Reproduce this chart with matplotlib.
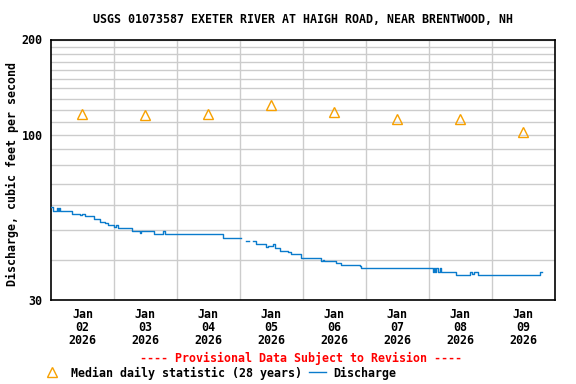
import matplotlib
matplotlib.use("Agg")
import matplotlib.pyplot as plt
import matplotlib.dates as mdates
from matplotlib.lines import Line2D
from matplotlib.ticker import FixedLocator, NullFormatter, FixedFormatter
from datetime import datetime, timedelta
import numpy as np

nan = float("nan")

# ---------------- data ----------------
start = datetime(2026, 1, 2)
# discharge, step series: hours after 2026-01-02 00:00 and value (cfs)
q_hours = [0.0, 0.88, 2.17, 2.8, 3.0, 3.43, 7.89, 11.05, 11.8, 12.95, 16.5,
           18.67, 20.57, 21.83, 24.0, 24.6, 25.64, 30.97, 33.9, 34.3, 39.24,
           42.86, 43.3, 65.41, 72.27, 74.55, 75.54, 77.07, 78.36, 81.9, 82.8,
           84.69, 85.3, 87.24, 90.4, 91.7, 95.5, 103.12, 103.6, 104.1, 108.8,
           110.74, 117.7, 118.3, 118.9, 145.5, 146.0, 146.5, 147.0, 147.6,
           148.3, 148.8, 149.45, 154.3, 159.6, 160.6, 161.2, 162.8, 186.3, 187.3]
q_values = [58.9, 57.5, 58.5, 57.5, 58.5, 57.2, 56.1, 55.7, 56.1, 55.3, 54.2,
            53.1, 52.5, 51.8, 51.2, 51.8, 50.6, 49.6, 49.0, 49.5, 48.5,
            49.5, 48.5, 47.0, nan, 46.1, nan, 46.1, 45.1, 44.0, 44.6,
            45.1, 43.7, 42.8, 42.4, 41.9, 40.6, 39.8, 40.2, 39.8, 39.3,
            38.7, 38.3, 37.8, 37.8, 36.7, 37.8, 36.7, 37.8, 36.7,
            37.8, 36.7, 36.7, 36.0, 36.7, 36.2, 36.7, 36.0, 36.7, 36.7]

# median daily statistic at noon of each day
median_days = ["2026-01-02", "2026-01-03", "2026-01-04", "2026-01-05",
               "2026-01-06", "2026-01-07", "2026-01-08", "2026-01-09"]
median_values = [116, 115, 116, 124, 118, 112, 112, 102]

y_ticks = [30, 100, 200]
y_tick_labels = ["30", "100", "200"]
y_minor = [40, 50, 60, 70, 80, 90, 110, 120, 130, 140, 150, 160, 170, 180, 190]

title = "USGS 01073587 EXETER RIVER AT HAIGH ROAD, NEAR BRENTWOOD, NH"
ylabel = "Discharge, cubic feet per second"
provisional = "---- Provisional Data Subject to Revision ----"
legend_labels = ["Median daily statistic (28 years)", "Discharge"]

# ---------------- plot ----------------
FONT = "DejaVu Sans Mono"
FS = 8.4
plt.rcParams["font.family"] = FONT
plt.rcParams["font.weight"] = "bold"
plt.rcParams["font.size"] = FS

fig = plt.figure(figsize=(5.76, 3.84), dpi=100)
W, H = 576, 384
ax_l, ax_r, ax_t, ax_b = 51, 554.5, 39.5, 300
ax = fig.add_axes([ax_l / W, 1 - ax_b / H, (ax_r - ax_l) / W, (ax_b - ax_t) / H])

q_dates = [start + timedelta(hours=h) for h in q_hours]
m_dates = [datetime.strptime(d, "%Y-%m-%d") + timedelta(hours=12) for d in median_days]

blue = "#0a7bcc"
orange = "#f7a000"

ax.plot(q_dates, q_values, drawstyle="steps-post", color=blue, lw=1.0, zorder=3)
ax.plot(m_dates, median_values, linestyle="none", marker="^", markersize=7.2,
        markerfacecolor="none", markeredgecolor=orange, markeredgewidth=1.0, zorder=4)

ax.set_yscale("log")
ax.set_ylim(30, 200)
ax.yaxis.set_major_locator(FixedLocator(y_ticks))
ax.yaxis.set_major_formatter(FixedFormatter(y_tick_labels))
ax.yaxis.set_minor_locator(FixedLocator(y_minor))
ax.yaxis.set_minor_formatter(NullFormatter())

ax.set_xlim(start, start + timedelta(days=8))
ax.set_xticks(m_dates)
ax.xaxis.set_major_formatter(mdates.DateFormatter("%b\n%d\n%Y"))
ax.xaxis.set_minor_locator(FixedLocator([mdates.date2num(start + timedelta(days=i)) for i in range(1, 8)]))

ax.grid(False)
ax.grid(True, which="minor", axis="both", color="#cccccc", lw=1.0)
ax.grid(True, which="major", axis="y", color="#cccccc", lw=1.0)
ax.set_axisbelow(True)

ax.tick_params(axis="both", which="both", length=0)
ax.tick_params(axis="y", pad=6)
ax.tick_params(axis="x", pad=5.5)
for lab in ax.get_xticklabels():
    lab.set_linespacing(1.02)
    lab.set_fontweight("bold")
for lab in ax.get_yticklabels():
    lab.set_fontweight("bold")

for s in ax.spines.values():
    s.set_color("black")
    s.set_linewidth(1.2)

fig.text(302.7 / W, 1 - 19.5 / H, title, ha="center", va="center", fontweight="bold")
fig.text(12 / W, 1 - 174.5 / H, ylabel, rotation=90, ha="center", va="center", fontweight="bold")
fig.text(301.5 / W, 1 - 358.5 / H, provisional, ha="center", va="center",
         color="#ff0000", fontweight="bold")

px = FS * 100 / 72.0  # pixels per font-size unit
h1 = Line2D([], [], linestyle="none", marker="^", markersize=7.2,
            markerfacecolor="none", markeredgecolor=orange, markeredgewidth=1.0)
h2 = Line2D([], [], color=blue, lw=1.0)
prop = {"family": FONT, "weight": "bold", "size": FS}
fig.legend([h1], [legend_labels[0]], loc="center left",
           bbox_to_anchor=(43.5 / W, 1 - 373 / H), frameon=False,
           handlelength=17 / px, handletextpad=10.5 / px,
           borderpad=0, borderaxespad=0, prop=prop)
fig.legend([h2], [legend_labels[1]], loc="center left",
           bbox_to_anchor=(309 / W, 1 - 373 / H), frameon=False,
           handlelength=17 / px, handletextpad=7 / px,
           borderpad=0, borderaxespad=0, prop=prop)

fig.savefig("out.png", dpi=100)
